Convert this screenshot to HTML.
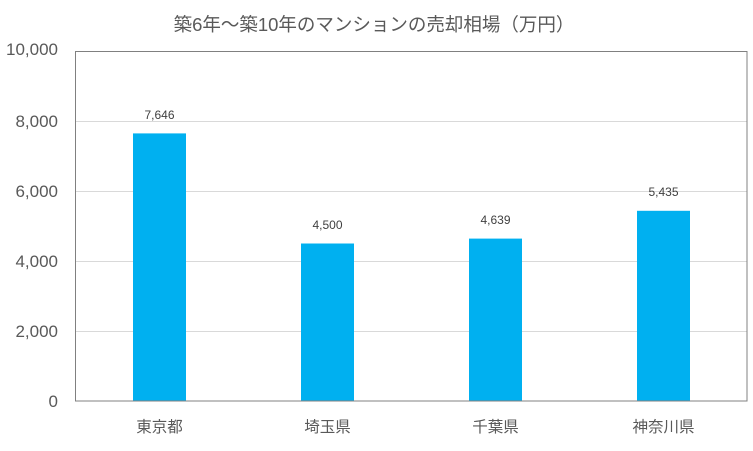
<!DOCTYPE html>
<html><head><meta charset="utf-8"><style>body{margin:0;background:#fff}</style></head><body>
<svg width="753" height="446" xmlns="http://www.w3.org/2000/svg" font-family="Liberation Sans, Noto Sans CJK JP, sans-serif">
<rect width="753" height="446" fill="#fff"/>
<text x="374" y="31" font-size="18.5" fill="#595959" text-anchor="middle">築6年～築10年のマンションの売却相場（万円）</text>
<g stroke="#d9d9d9" stroke-width="1">
<line x1="76" y1="121.5" x2="747" y2="121.5"/>
<line x1="76" y1="191.5" x2="747" y2="191.5"/>
<line x1="76" y1="261.5" x2="747" y2="261.5"/>
<line x1="76" y1="331.5" x2="747" y2="331.5"/>
</g>
<g fill="#00b0f0">
<rect x="133" y="133.4" width="53" height="267.6"/>
<rect x="301" y="243.5" width="53" height="157.5"/>
<rect x="469" y="238.6" width="53" height="162.4"/>
<rect x="637" y="210.8" width="53" height="190.2"/>
</g>
<rect x="75.5" y="51.5" width="671.5" height="349.5" fill="none" stroke="#808080" stroke-width="1"/>
<g font-size="17" fill="#595959" text-anchor="end">
<text x="58" y="55">10,000</text>
<text x="58" y="127">8,000</text>
<text x="58" y="197">6,000</text>
<text x="58" y="267">4,000</text>
<text x="58" y="337">2,000</text>
<text x="58" y="407">0</text>
</g>
<g font-size="12" fill="#404040" text-anchor="middle">
<text x="159.5" y="119">7,646</text>
<text x="327.5" y="229">4,500</text>
<text x="495.5" y="224">4,639</text>
<text x="663.5" y="196">5,435</text>
</g>
<g font-size="15.5" fill="#595959" text-anchor="middle">
<text x="159.5" y="432">東京都</text>
<text x="327.5" y="432">埼玉県</text>
<text x="495.5" y="432">千葉県</text>
<text x="663.5" y="432">神奈川県</text>
</g>
</svg>
</body></html>
